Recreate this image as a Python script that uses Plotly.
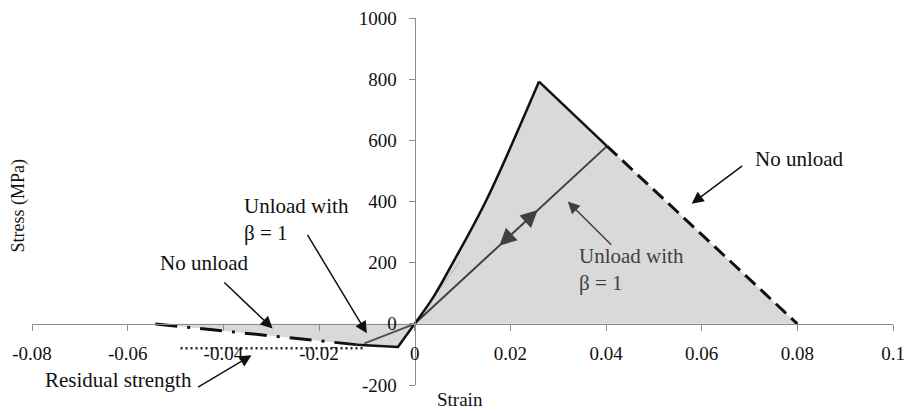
import plotly.graph_objects as go

# ---------------- data ----------------
# tension branch
load_strain = [0, 0.004, 0.008, 0.015, 0.026]
load_stress = [0, 90, 200, 405, 792]
soft_strain = [0.026, 0.0402]
soft_stress = [792, 581]
nounload_strain = [0.0402, 0.08]
nounload_stress = [581, 0]
unload_strain = [0.0402, 0]
unload_stress = [581, 0]
faint_strain = [0, 0.0025, 0.0095]
faint_stress = [0, 55, 205]

# compression branch
comp_strain = [0, -0.0035, -0.0122]
comp_stress = [0, -76, -68]
comp_soft_strain = [-0.0122, -0.0544]
comp_soft_stress = [-68, 0]
resid_strain = [-0.0109, -0.049]
resid_stress = [-80, -80]
comp_unload_strain = [-0.0105, 0]
comp_unload_stress = [-64, 0]

x_ticks = [-0.08, -0.06, -0.04, -0.02, 0, 0.02, 0.04, 0.06, 0.08, 0.1]
x_tick_text = ["-0.08", "-0.06", "-0.04", "-0.02", "0", "0.02", "0.04", "0.06", "0.08", "0.1"]
y_ticks = [-200, 0, 200, 400, 600, 800, 1000]
y_tick_text = ["-200", "0", "200", "400", "600", "800", "1000"]

X_RANGE = [-0.08, 0.1]
Y_RANGE = [-200, 1000]

FONT = "Liberation Serif"
FS = 19
FS_LABEL = 21
AXC = "#8c8c8c"
FILL = "#d9d9d9"

fig = go.Figure()

# shaded regions
fig.add_trace(go.Scatter(
    x=load_strain + soft_strain[1:] + nounload_strain[1:] + [0],
    y=load_stress + soft_stress[1:] + nounload_stress[1:] + [0],
    fill="toself", fillcolor=FILL, mode="lines", line=dict(width=0),
    hoverinfo="skip", showlegend=False))
fig.add_trace(go.Scatter(
    x=comp_strain + comp_soft_strain[1:] + [0],
    y=comp_stress + comp_soft_stress[1:] + [0],
    fill="toself", fillcolor=FILL, mode="lines", line=dict(width=0),
    hoverinfo="skip", showlegend=False))


def line(xs, ys, color, width, dash="solid", shape="linear"):
    fig.add_trace(go.Scatter(x=xs, y=ys, mode="lines",
                             line=dict(color=color, width=width, dash=dash, shape=shape),
                             hoverinfo="skip", showlegend=False))


line(faint_strain, faint_stress, "#c4c4c4", 1.5, shape="spline")
line(unload_strain, unload_stress, "#404040", 2)
line(comp_unload_strain, comp_unload_stress, "#505050", 2)
line(load_strain, load_stress, "#111111", 2.5, shape="spline")
line(soft_strain, soft_stress, "#111111", 2.5)
line(nounload_strain, nounload_stress, "#111111", 3, "14px,7px")
line(comp_strain, comp_stress, "#111111", 2.5)
line(comp_soft_strain, comp_soft_stress, "#111111", 3, "22px,10px,3px,10px")
line(resid_strain, resid_stress, "#222222", 2.5, "2px,3px")

annotations = []


def along(xs, ys, i, t):
    return xs[i] + (xs[i + 1] - xs[i]) * t, ys[i] + (ys[i + 1] - ys[i]) * t


def head(xs, ys, i, t, color, back=0.04):
    x1, y1 = along(xs, ys, i, t)
    x0, y0 = along(xs, ys, i, t - back)
    annotations.append(dict(x=x1, y=y1, ax=x0, ay=y0, xref="x", yref="y",
                            axref="x", ayref="y", text="", showarrow=True,
                            arrowhead=2, arrowsize=1.7, arrowwidth=2,
                            arrowcolor=color))


head(load_strain, load_stress, 3, 0.05, "#111111")
head(soft_strain, soft_stress, 0, 0.8, "#111111")
# unload line runs peak -> origin: one head toward the peak, one toward origin
head(unload_strain, unload_stress, 0, 0.36, "#404040", back=-0.04)
head(unload_strain, unload_stress, 0, 0.56, "#404040")
head(comp_unload_strain, comp_unload_stress, 0, 0.35, "#404040")
head(comp_strain, comp_stress, 0, 0.6, "#111111")


def label(x, y, text, color="#111111", xanchor="left"):
    annotations.append(dict(x=x, y=y, xref="x", yref="y", text=text, showarrow=False,
                            xanchor=xanchor, yanchor="middle", align="left",
                            font=dict(family=FONT, size=FS_LABEL, color=color)))


def pointer(x_tail, y_tail, x_head, y_head, color="#111111"):
    annotations.append(dict(x=x_head, y=y_head, ax=x_tail, ay=y_tail, xref="x", yref="y",
                            axref="x", ayref="y", text="", showarrow=True, arrowhead=2,
                            arrowsize=1.6, arrowwidth=1.5, arrowcolor=color))


label(0.0707, 539, "No unload")
pointer(0.0688, 520, 0.0579, 393)
label(0.0339, 178, "Unload with<br>β = 1", color="#404040")
pointer(0.0414, 254, 0.0320, 400, color="#404040")
label(-0.036, 340, "Unload with<br>β = 1")
pointer(-0.0226, 296, -0.0100, -31)
label(-0.0537, 199, "No unload")
pointer(-0.0401, 140, -0.0297, -15)
label(-0.0778, -184, "Residual strength")
pointer(-0.0456, -210, -0.0341, -103)

# axis titles
annotations.append(dict(x=-0.016, y=0.49, xref="paper", yref="paper", text="Stress (MPa)",
                        showarrow=False, textangle=-90, xanchor="center", yanchor="middle",
                        font=dict(family=FONT, size=18, color="#111111")))
annotations.append(dict(x=0.0095, y=-0.04, xref="x", yref="paper", text="Strain",
                        showarrow=False, xanchor="center", yanchor="middle",
                        font=dict(family=FONT, size=FS, color="#111111")))

x_pos = (0 - Y_RANGE[0]) / (Y_RANGE[1] - Y_RANGE[0])
y_pos = (0 - X_RANGE[0]) / (X_RANGE[1] - X_RANGE[0])

common = dict(showgrid=False, zeroline=False, tickcolor=AXC, ticklen=6, tickwidth=1,
              automargin=False, ticklabeloverflow="allow",
              tickfont=dict(family=FONT, size=FS, color="#111111"))

# page body has an 8px margin: figure is sized so the plot lands where the reference has it
fig.update_layout(
    width=905, height=404,
    margin=dict(l=24, r=20, t=10, b=27, autoexpand=False),
    paper_bgcolor="white", plot_bgcolor="white",
    showlegend=False,
    xaxis=dict(range=X_RANGE, anchor="free", position=x_pos, showline=True,
               linecolor=AXC, linewidth=1, ticks="outside", tickvals=x_ticks,
               ticktext=x_tick_text, ticklabelstandoff=6, **common),
    yaxis=dict(range=Y_RANGE, anchor="free", position=y_pos, showline=True,
               linecolor=AXC, linewidth=1, ticks="outside", tickvals=y_ticks,
               ticktext=y_tick_text, ticklabelstandoff=8, **common),
    xaxis2=dict(range=X_RANGE, overlaying="x", anchor="free", position=x_pos,
                showline=False, ticks="inside", tickvals=x_ticks,
                showticklabels=False, **common),
    yaxis2=dict(range=Y_RANGE, overlaying="y", anchor="free", position=y_pos,
                showline=False, ticks="inside", tickvals=y_ticks,
                showticklabels=False, **common),
    annotations=annotations,
)

fig.write_html("out.html")
